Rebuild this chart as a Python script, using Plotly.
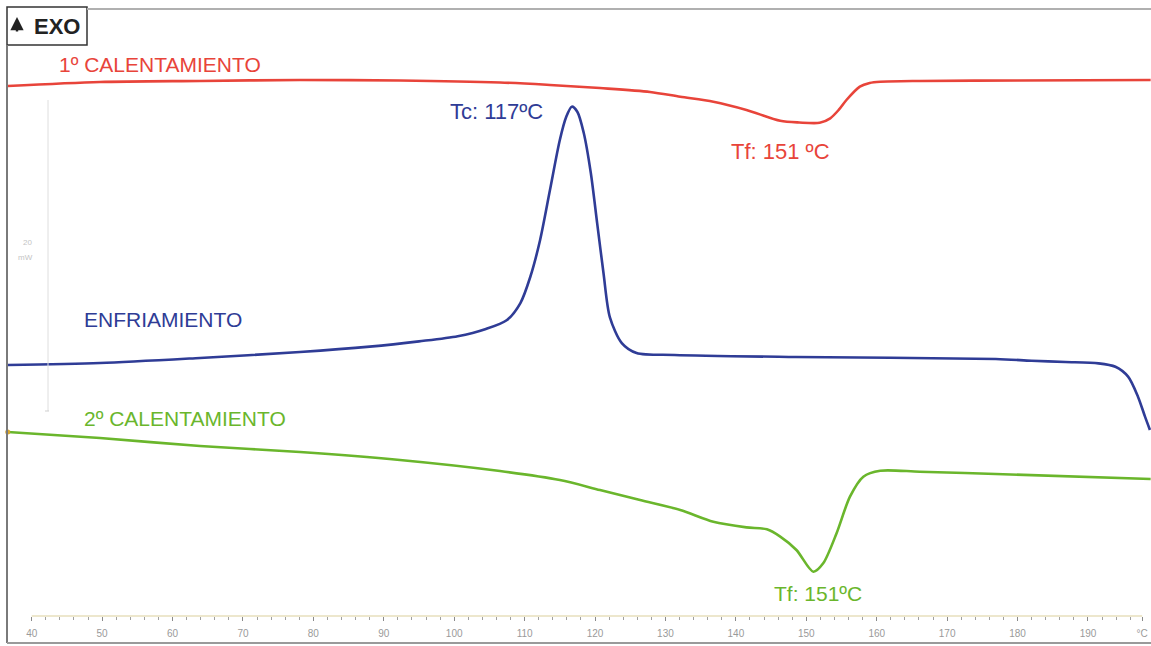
import plotly.graph_objects as go

# DSC thermograms: heat flow (mW, stacked with offsets) versus temperature (°C)
temp_heat1 = [36.6, 49.7, 63.9, 78.1, 92.3, 106.5, 113.6, 120.7, 127.8, 132.1, 136.8,
              141.5, 146.3, 149.0, 151.9, 153.4, 154.6, 155.7, 157.6, 159.0, 160.5,
              166.1, 180.0, 198.9]
flow_heat1 = [34.19, 34.45, 34.52, 34.58, 34.55, 34.42, 34.26, 34.06, 33.81, 33.50, 33.18,
              32.65, 31.95, 31.84, 31.82, 32.11, 32.65, 33.29, 34.15, 34.39, 34.47,
              34.52, 34.55, 34.58]

temp_cool = [36.6, 49.7, 63.9, 78.1, 88.0, 95.0, 100.5, 104.5, 107.5, 109.4, 110.8, 112.2,
             113.6, 115.0, 115.9, 116.7, 117.5, 118.4, 119.4, 120.3, 121.2, 122.1,
             123.8, 125.9, 131.3, 148.5, 176.9, 182.0, 186.8, 191.5, 193.9, 195.7,
             197.1, 198.1, 198.8]
flow_cool = [16.19, 16.32, 16.65, 17.03, 17.38, 17.72, 18.05, 18.52, 19.10, 20.19, 21.87, 24.26,
             27.48, 30.71, 32.19, 32.86, 32.52, 31.16, 28.58, 25.35, 22.13, 19.29,
             17.61, 16.97, 16.84, 16.71, 16.58, 16.47, 16.39, 16.30, 16.08, 15.44,
             14.15, 12.86, 12.00]

temp_heat2 = [36.6, 49.7, 63.9, 78.1, 92.3, 106.5, 115.0, 120.7, 126.4, 132.1, 136.8,
              141.5, 144.4, 146.3, 148.6, 151.0, 152.4, 154.3, 156.2, 158.1, 160.5,
              166.1, 176.9, 198.9]
flow_heat2 = [11.87, 11.48, 10.97, 10.58, 10.06, 9.35, 8.77, 8.13, 7.48, 6.84, 6.08,
              5.72, 5.59, 5.12, 4.26, 2.86, 3.40, 5.34, 7.70, 8.99, 9.37,
              9.31, 9.16, 8.84]

tick_vals = [40, 50, 60, 70, 80, 90, 100, 110, 120, 130, 140, 150, 160, 170, 180, 190, 197.7]
tick_text = ["40", "50", "60", "70", "80", "90", "100", "110", "120", "130", "140",
             "150", "160", "170", "180", "190", "°C"]
minor_vals = list(range(42, 198, 2))

RED = "#e8443a"
BLUE = "#2f3c96"
GREEN = "#6ab62c"
FONT = "Liberation Sans, Arial, sans-serif"

W, H, B = 1151, 646, 30
X0, X1 = 35.5, 198.95
Y0, Y1 = 0.0, (H - B) / 15.5


def px(x):
    return x / W


def py(y):
    return (H - B - y) / (H - B)


fig = go.Figure()
for t, f, c in [(temp_heat1, flow_heat1, RED), (temp_cool, flow_cool, BLUE),
                (temp_heat2, flow_heat2, GREEN)]:
    fig.add_trace(go.Scatter(x=t, y=f, mode="lines",
                             line=dict(color=c, width=2.6, shape="spline", smoothing=0.8),
                             hoverinfo="skip", showlegend=False))

# start point marker of the second heating run
fig.add_trace(go.Scatter(x=temp_heat2[:1], y=flow_heat2[:1], mode="markers",
                         marker=dict(color="#d9a62a", size=5), showlegend=False,
                         hoverinfo="skip"))

labels = [
    ("1º CALENTAMIENTO", 43.6, 35.55, RED, "left", 21),
    ("Tc: 117ºC", 106.0, 32.52, BLUE, "center", 22),
    ("Tf: 151 ºC", 146.3, 29.94, RED, "center", 22),
    ("ENFRIAMIENTO", 47.1, 19.10, BLUE, "left", 21),
    ("2º CALENTAMIENTO", 47.1, 12.77, GREEN, "left", 21),
    ("Tf: 151ºC", 151.7, 1.42, GREEN, "center", 21),
]
for text, x, y, c, anchor, size in labels:
    fig.add_annotation(x=x, y=y, text=text, showarrow=False, xanchor=anchor,
                       yanchor="middle", font=dict(family=FONT, size=size, color=c))

# EXO direction box
fig.add_shape(type="rect", xref="paper", yref="paper", x0=px(7), x1=px(87),
              y0=py(45), y1=py(7), line=dict(color="#333333", width=1.5),
              fillcolor="white")
fig.add_annotation(xref="paper", yref="paper", x=px(57), y=py(26), text="<b>EXO</b>",
                   showarrow=False, xanchor="center", yanchor="middle",
                   font=dict(family=FONT, size=22, color="#222222"))
fig.add_annotation(xref="paper", yref="paper", x=px(17), y=py(17), ax=0, ay=16,
                   text="", showarrow=True, arrowhead=2, arrowsize=1.1, arrowwidth=2.4,
                   arrowcolor="#222222")

# outer frame
fig.add_shape(type="line", xref="paper", yref="paper", x0=px(87), x1=1, y0=py(9), y1=py(9),
              line=dict(color="#b0b0b0", width=2))
fig.add_shape(type="line", xref="paper", yref="paper", x0=px(7), x1=px(7), y0=py(643),
              y1=py(45), line=dict(color="#7a7a7a", width=2))
fig.add_shape(type="line", xref="paper", yref="paper", x0=px(7), x1=1, y0=py(643),
              y1=py(643), line=dict(color="#9a9a9a", width=2))

# heat-flow scale bar (20 mW)
fig.add_shape(type="line", xref="paper", yref="paper", x0=px(48), x1=px(48), y0=py(411),
              y1=py(100), line=dict(color="#dedede", width=1))
fig.add_shape(type="line", xref="paper", yref="paper", x0=px(45), x1=px(49), y0=py(411),
              y1=py(411), line=dict(color="#cfcfcf", width=1))
fig.add_annotation(xref="paper", yref="paper", x=px(27), y=py(242), text="20",
                   showarrow=False, xanchor="center", yanchor="middle",
                   font=dict(family=FONT, size=8, color="#c4c4c4"))
fig.add_annotation(xref="paper", yref="paper", x=px(25), y=py(257), text="mW",
                   showarrow=False, xanchor="center", yanchor="middle",
                   font=dict(family=FONT, size=8, color="#c4c4c4"))

# temperature axis baseline
fig.add_shape(type="line", xref="x", yref="paper", x0=40, x1=197.7, y0=0, y1=0,
              line=dict(color="#dccf9c", width=1.2))

fig.update_xaxes(range=[X0, X1], showgrid=False, zeroline=False, showline=False,
                 tickmode="array", tickvals=tick_vals, ticktext=tick_text,
                 ticks="outside", ticklen=4, tickcolor="#8a8a8a", tickwidth=1,
                 ticklabelstandoff=4,
                 tickfont=dict(family=FONT, size=10, color="#9a9a9a"),
                 minor=dict(tickmode="array", tickvals=minor_vals, ticks="outside",
                            ticklen=3, tickcolor="#a0a0a0"))
fig.update_yaxes(range=[Y0, Y1], showgrid=False, zeroline=False, showline=False,
                 showticklabels=False, ticks="")

fig.update_layout(width=W, height=H, margin=dict(l=0, r=0, t=0, b=B),
                  paper_bgcolor="white", plot_bgcolor="white",
                  font=dict(family=FONT))

fig.write_html("out.html")
